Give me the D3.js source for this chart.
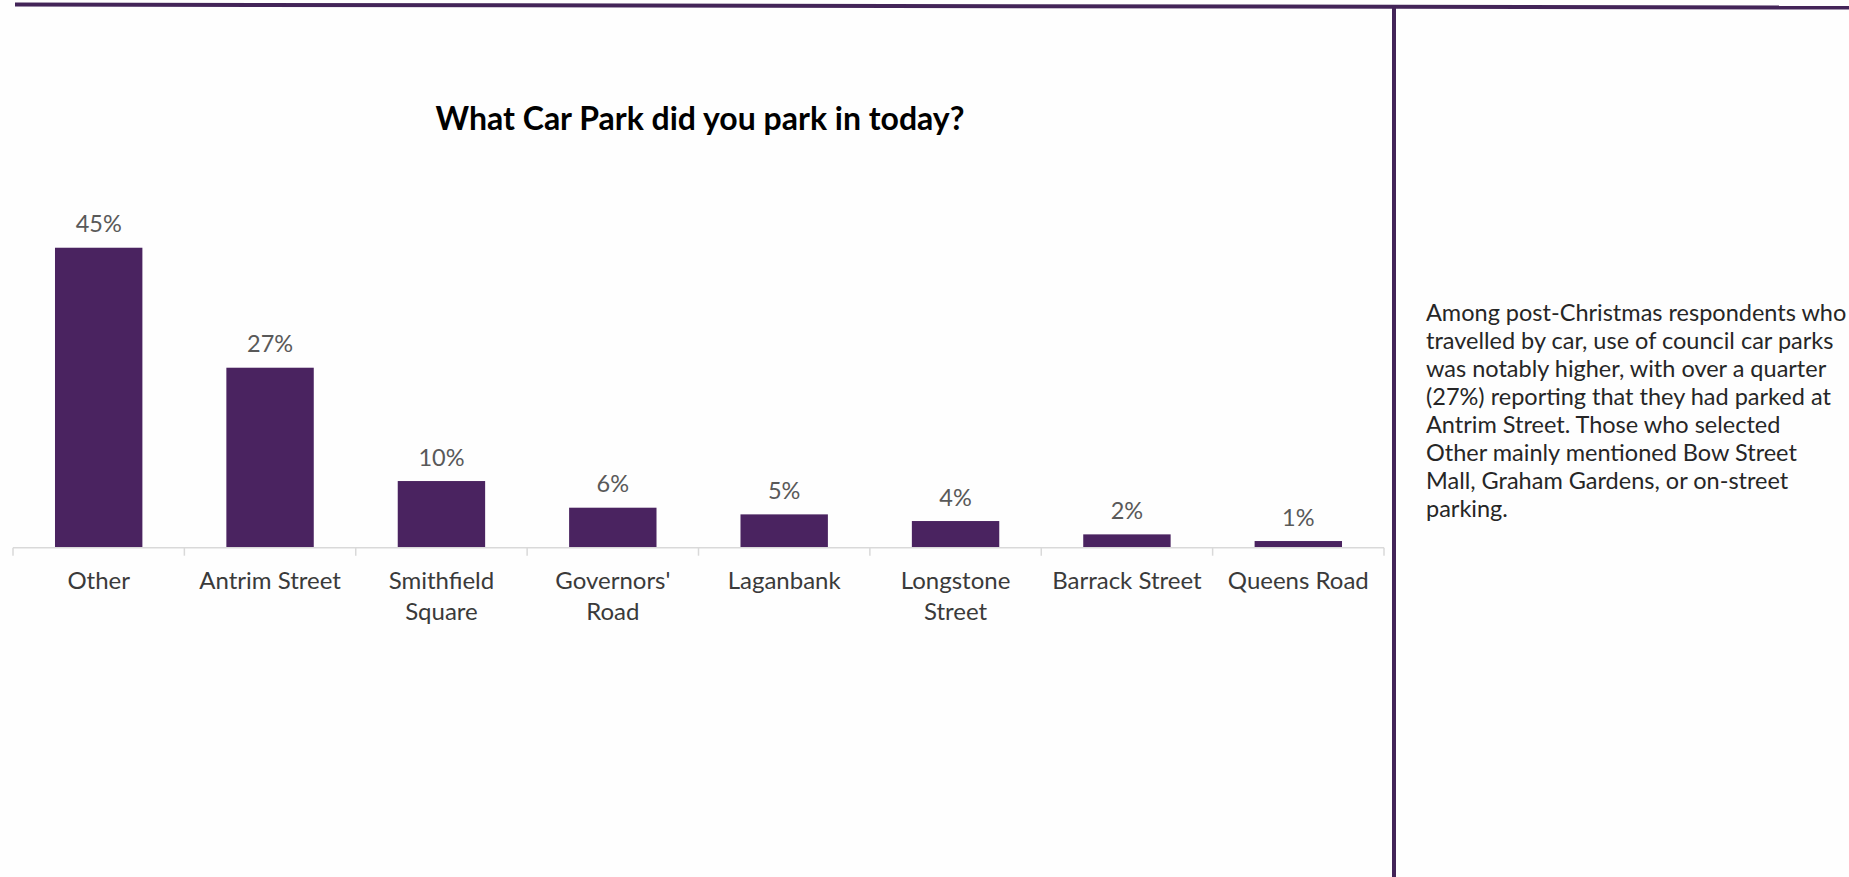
<!DOCTYPE html>
<html>
<head>
<meta charset="utf-8">
<script src="https://cdn.jsdelivr.net/npm/d3@7"></script>
<style>
  html, body { margin: 0; padding: 0; background: #fefefe; }
  svg { display: block; }
</style>
</head>
<body>
<svg id="chart" width="1849" height="877"></svg>
<script>
// Car park usage, post-Christmas survey
const categories = ["Other", "Antrim Street", "Smithfield Square", "Governors' Road",
                    "Laganbank", "Longstone Street", "Barrack Street", "Queens Road"];
const categoryLines = [["Other"], ["Antrim Street"], ["Smithfield", "Square"], ["Governors'", "Road"],
                       ["Laganbank"], ["Longstone", "Street"], ["Barrack Street"], ["Queens Road"]];
const shares = [0.45, 0.27, 0.10, 0.06, 0.05, 0.04, 0.02, 0.01];
const title = "What Car Park did you park in today?";
const commentary = [
  "Among post-Christmas respondents who",
  "travelled by car, use of council car parks",
  "was notably higher, with over a quarter",
  "(27%) reporting that they had parked at",
  "Antrim Street. Those who selected",
  "Other mainly mentioned Bow Street",
  "Mall, Graham Gardens, or on-street",
  "parking."
];

const FONT = "Lato, 'Open Sans', sans-serif";
const PURPLE = "#4a2360";
const FRAME = "#432458";

const svg = d3.select("#chart");

// frame: top rule and divider between chart and commentary
svg.append("line")
  .attr("x1", 15).attr("y1", 4.5).attr("x2", 1849).attr("y2", 7.5)
  .attr("stroke", FRAME).attr("stroke-width", 4);
svg.append("line")
  .attr("x1", 1394).attr("y1", 6).attr("x2", 1394).attr("y2", 877)
  .attr("stroke", FRAME).attr("stroke-width", 4);

// scales
const x = d3.scaleBand()
  .domain(categories)
  .range([13, 1384])
  .paddingInner(0.49)
  .paddingOuter(0.245);
const baseY = 547.7;
const y = d3.scaleLinear().domain([0, 0.5]).range([baseY, baseY - 333.3]);

// title
svg.append("text")
  .attr("x", 700).attr("y", 130)
  .attr("text-anchor", "middle")
  .attr("font-family", FONT).attr("font-weight", 700).attr("font-size", 32)
  .attr("fill", "#000")
  .text(title);

// bars
svg.append("g").selectAll("rect")
  .data(shares)
  .join("rect")
  .attr("x", (d, i) => x(categories[i]))
  .attr("width", x.bandwidth())
  .attr("y", d => y(d))
  .attr("height", d => baseY - y(d))
  .attr("fill", PURPLE);

// value labels
svg.append("g").selectAll("text")
  .data(shares)
  .join("text")
  .attr("x", (d, i) => x(categories[i]) + x.bandwidth() / 2)
  .attr("y", d => y(d) - 15.5)
  .attr("text-anchor", "middle")
  .attr("font-family", FONT).attr("font-size", 23.5)
  .attr("fill", "#595959")
  .text(d => d3.format(".0%")(d));

// category axis: baseline with ticks at band boundaries
const axisG = svg.append("g");
axisG.append("line")
  .attr("x1", 13).attr("x2", 1384).attr("y1", baseY).attr("y2", baseY)
  .attr("stroke", "#d9d9d9").attr("stroke-width", 1.5);
const bounds = categories.map(c => x(c) - x.step() * x.paddingInner() / 2)
  .concat([x(categories[categories.length - 1]) + x.bandwidth() + x.step() * x.paddingInner() / 2]);
axisG.selectAll("line.tick")
  .data(bounds)
  .join("line")
  .attr("class", "tick")
  .attr("x1", d => d).attr("x2", d => d)
  .attr("y1", baseY).attr("y2", baseY + 8)
  .attr("stroke", "#d9d9d9").attr("stroke-width", 1.5);

const labels = axisG.selectAll("text.cat")
  .data(categories)
  .join("text")
  .attr("class", "cat")
  .attr("x", d => x(d) + x.bandwidth() / 2)
  .attr("y", 589)
  .attr("text-anchor", "middle")
  .attr("font-family", FONT).attr("font-size", 24)
  .attr("fill", "#3a3a3a");
labels.each(function(d, i) {
  d3.select(this).selectAll("tspan")
    .data(categoryLines[i])
    .join("tspan")
    .attr("x", x(d) + x.bandwidth() / 2)
    .attr("dy", (t, j) => j === 0 ? 0 : 31)
    .text(t => t);
});

// commentary text
svg.append("g").selectAll("text")
  .data(commentary)
  .join("text")
  .attr("x", 1426)
  .attr("y", (d, i) => 321 + i * 28)
  .attr("font-family", FONT).attr("font-size", 23.5)
  .attr("fill", "#262626")
  .text(d => d);
</script>
</body>
</html>
